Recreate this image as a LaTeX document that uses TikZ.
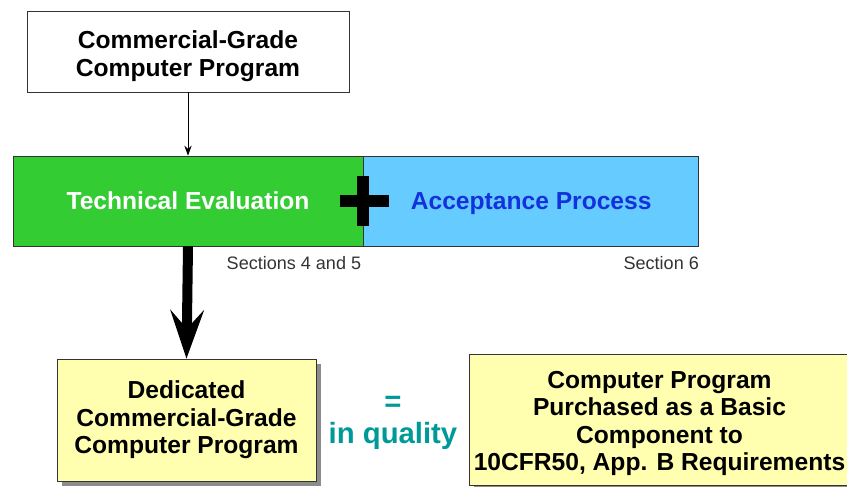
\documentclass[tikz,border=0pt]{standalone}
\usepackage{fontspec}
\setmainfont{Liberation Sans}
\usepackage{xcolor}
\usepackage{tikz}
\usetikzlibrary{arrows.meta, positioning, shadows}
\definecolor{evalgreen}{RGB}{51, 204, 51}
\definecolor{acceptblue}{RGB}{102, 204, 255}
\definecolor{acctext}{RGB}{20, 50, 220}
\definecolor{qualteal}{RGB}{0, 153, 153}
\definecolor{progyellow}{RGB}{255, 255, 175}

\begin{document}
\begin{tikzpicture}[
  x=0.03cm, y=-0.03cm,
  bigfont/.style={font=\fontsize{21}{23.5}\selectfont\bfseries},
  progbox/.style={rectangle, draw=black!80, line width=0.6pt, align=center, bigfont},
  stagebox/.style={rectangle, draw=black!80, line width=0.6pt, minimum height=2.7cm, text height=15pt, text depth=0pt, align=center, bigfont},
  yellowbox/.style={progbox, fill=progyellow, drop shadow={shadow xshift=0.16cm, shadow yshift=-0.16cm, fill=black!45, opacity=1}},
  seclabel/.style={font=\fontsize{15.4}{17}\selectfont, text=black!80, inner sep=0pt}
]
  \useasboundingbox (0,0) rectangle (847,487);

  % input program
  \node[progbox, minimum width=9.66cm, minimum height=2.43cm, text height=47pt] (cgprog) at (188,51.5) {Commercial-Grade\\Computer Program};

  % dedication stages
  \node[stagebox, fill=evalgreen, text=white, minimum width=10.5cm] (tech) at (188,201) {Technical Evaluation};
  \node[stagebox, fill=acceptblue, text=acctext, minimum width=10.05cm, right=0pt of tech] (accept) {Acceptance Process};
  \draw[line width=0.36cm] ([xshift=-0.69cm]tech.east) -- ([xshift=0.78cm]tech.east);
  \draw[line width=0.36cm] ([yshift=0.75cm]tech.east) -- ([yshift=-0.75cm]tech.east);

  \node[seclabel, anchor=north east] (sec45) at ([xshift=-0.06cm, yshift=-0.3cm]tech.south east) {Sections 4 and 5};
  \node[seclabel, anchor=north east] (sec6) at ([yshift=-0.3cm]accept.south east) {Section 6};

  % results
  \node[yellowbox, minimum width=7.77cm, minimum height=3.66cm] (dedicated) at (186.5,420) {Dedicated\\Commercial-Grade\\Computer Program};
  \node[yellowbox, minimum width=11.43cm, minimum height=3.93cm, text height=92pt] (basic) at (659.5,419.5) {Computer Program\\Purchased as a Basic\\Component to\\10CFR50, App. B Requirements};
  \node[font=\fontsize{25}{27}\selectfont\bfseries, text=qualteal, align=center] (equal) at (393,423) {=\\in quality};

  % Arrows
  \draw[-{Stealth[length=0.3cm, width=0.22cm]}, line width=0.8pt] (cgprog) -- (tech);
  \draw[-{Stealth[length=1.45cm, width=1cm, inset=0.55cm]}, line width=0.3cm] (tech.south) -- (dedicated.north);
\end{tikzpicture}
\end{document}
